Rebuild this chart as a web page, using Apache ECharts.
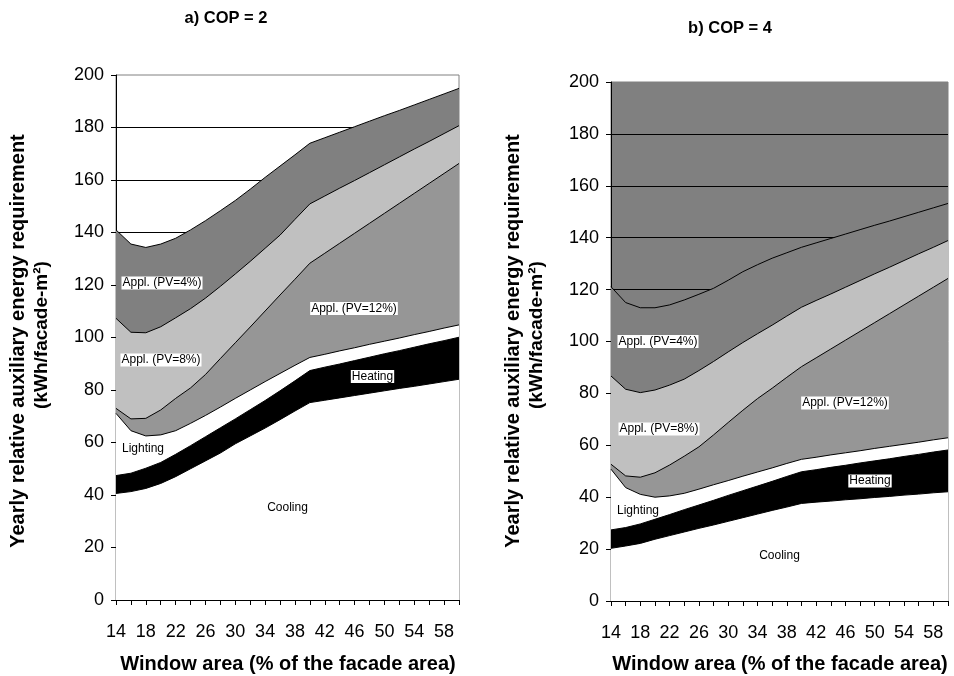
<!DOCTYPE html>
<html>
<head>
<meta charset="utf-8">
<script src="https://cdn.jsdelivr.net/npm/echarts@6/dist/echarts.min.js"></script>
<style>
html,body{margin:0;padding:0;background:#fff;}
#main{width:954px;height:676px;}
</style>
</head>
<body>
<div id="main"></div>
<script>
// Window area categories (% of facade area)
const categories = ['14','16','18','20','22','24','26','28','30','32','34','36','38','40','42','44','46','48','50','52','54','56','58','60'];

// a) COP = 2 — cumulative boundary values (kWh/facade-m2)
const coolingA  = [40.6,41.3,42.5,44.4,47.0,50.0,53.0,56.0,59.5,62.5,65.5,68.7,72.0,75.2,76.1,77.0,77.9,78.8,79.7,80.6,81.4,82.3,83.2,84.1];
const heatingA  = [47.4,48.3,50.2,52.4,55.5,58.8,62.2,65.6,69.0,72.5,76.0,79.7,83.5,87.4,88.7,89.9,91.2,92.5,93.8,95.0,96.3,97.6,98.8,100.1];
const lightingA = [71.1,64.5,62.5,62.9,64.5,67.3,70.3,73.5,76.8,80.0,83.2,86.3,89.4,92.4,93.6,94.9,96.1,97.4,98.6,99.8,101.1,102.3,103.6,104.8];
const pv12A     = [73.0,69.0,69.2,72.4,76.8,80.8,85.9,92.0,98.0,104.0,110.1,116.2,122.2,128.3,132.1,135.9,139.7,143.5,147.3,151.1,154.9,158.7,162.5,166.3];
const pv8A      = [107.3,102.0,101.8,104.1,107.5,111.0,115.0,119.5,124.2,129.0,134.0,139.0,145.0,150.9,153.9,156.9,159.8,162.8,165.8,168.8,171.8,174.7,177.7,180.7];
const pv4A      = [141.0,135.6,134.3,135.6,137.8,141.0,144.5,148.3,152.2,156.5,161.0,165.3,169.6,174.0,176.1,178.2,180.3,182.4,184.5,186.5,188.6,190.7,192.8,194.9];

// b) COP = 4
const coolingB  = [20.3,21.2,22.2,23.8,25.2,26.6,28.0,29.3,30.7,32.1,33.5,34.9,36.2,37.6,38.1,38.5,39.0,39.4,39.9,40.3,40.8,41.2,41.7,42.1];
const heatingB  = [27.4,28.3,29.7,31.5,33.3,35.2,37.0,38.8,40.7,42.5,44.3,46.1,48.0,49.8,50.6,51.5,52.3,53.2,54.0,54.8,55.7,56.5,57.4,58.2];
const lightingB = [50.8,43.7,41.1,40.0,40.5,41.5,43.1,44.8,46.4,48.1,49.7,51.3,53.0,54.6,55.4,56.3,57.1,57.9,58.8,59.6,60.4,61.2,62.1,62.9];
const pv12B     = [52.7,48.2,47.7,49.4,52.4,55.8,59.4,64.0,68.8,73.5,78.0,82.0,86.2,90.3,93.7,97.1,100.5,103.9,107.3,110.7,114.1,117.5,120.9,124.3];
const pv8B      = [86.7,81.6,80.3,81.3,83.2,85.5,88.8,92.3,96.0,99.6,103.0,106.3,109.8,113.2,115.8,118.3,120.9,123.5,126.1,128.6,131.2,133.8,136.3,138.9];
const pv4B      = [121.1,115.0,113.0,113.0,114.1,116.0,118.2,120.5,123.6,126.9,129.6,132.1,134.2,136.3,138.0,139.7,141.4,143.1,144.8,146.4,148.1,149.8,151.5,153.2];

const yTicks = {min: 0, max: 200, interval: 20};
const FONT = 'Liberation Sans, Arial, Helvetica, sans-serif';

const layers = [
  {name: 'Appl. (PV=4%)',  color: '#808080', a: pv4A,      b: pv4B},
  {name: 'Appl. (PV=8%)',  color: '#c0c0c0', a: pv8A,      b: pv8B},
  {name: 'Appl. (PV=12%)', color: '#969696', a: pv12A,     b: pv12B},
  {name: 'Lighting',       color: '#ffffff', a: lightingA, b: lightingB},
  {name: 'Heating',        color: '#000000', a: heatingA,  b: heatingB},
  {name: 'Cooling',        color: '#ffffff', a: coolingA,  b: coolingB}
];

function xAxisFor(i) {
  return {
    type: 'category', gridIndex: i, data: categories, boundaryGap: false,
    axisLine: {show: true, lineStyle: {color: '#000', width: 1}},
    axisTick: {show: true, interval: 0, length: 5, inside: false, lineStyle: {color: '#000'}},
    axisLabel: {interval: 1, fontSize: 18, color: '#000', margin: 23, fontFamily: FONT},
    splitLine: {show: false}
  };
}
function yAxisFor(i) {
  return {
    type: 'value', gridIndex: i, min: yTicks.min, max: yTicks.max, interval: yTicks.interval,
    axisLine: {show: true, lineStyle: {color: '#000', width: 1}},
    axisTick: {show: true, length: 5, lineStyle: {color: '#000'}},
    axisLabel: {fontSize: 18, color: '#000', margin: 12, fontFamily: FONT},
    splitLine: {show: true, showMinLine: false, showMaxLine: false, lineStyle: {color: '#000', width: 1}}
  };
}

const series = [];
[0, 1].forEach(function (g) {
  layers.forEach(function (L) {
    series.push({
      type: 'line', name: L.name, xAxisIndex: g, yAxisIndex: g,
      data: g === 0 ? L.a : L.b,
      symbol: 'none', silent: true, smooth: false,
      lineStyle: {color: '#000', width: 1},
      areaStyle: {color: L.color, opacity: 1}
    });
  });
});

function lbl(x, y, text, bg) {
  return {
    type: 'text', x: x, y: y, z: 100,
    style: {
      text: text, fill: '#000', font: '12px ' + FONT,
      align: 'center', verticalAlign: 'middle',
      backgroundColor: bg ? '#fff' : null, padding: bg ? [1, 1, 0, 1] : 0
    }
  };
}
function vtitle(x, y, text, size) {
  return {
    type: 'text', x: x, y: y, rotation: Math.PI / 2, z: 100,
    style: {text: text, fill: '#000', font: 'bold ' + size + 'px ' + FONT, align: 'center', verticalAlign: 'middle'}
  };
}
function htitle(x, y, text, size) {
  return {
    type: 'text', x: x, y: y, z: 100,
    style: {text: text, fill: '#000', font: 'bold ' + size + 'px ' + FONT, align: 'center', verticalAlign: 'middle'}
  };
}

const graphics = [
  htitle(226, 18, 'a) COP = 2', 16.5),
  htitle(730, 28, 'b) COP = 4', 16.5),
  vtitle(18, 341, 'Yearly relative auxiliary energy requirement', 20),
  vtitle(42, 335, '(kWh/facade-m²)', 19),
  vtitle(513, 341, 'Yearly relative auxiliary energy requirement', 20),
  vtitle(537, 335, '(kWh/facade-m²)', 19),
  htitle(288, 664, 'Window area (% of the facade area)', 20),
  htitle(780, 664, 'Window area (% of the facade area)', 20),
  lbl(162, 283, 'Appl. (PV=4%)', true),
  lbl(161, 360, 'Appl. (PV=8%)', true),
  lbl(354, 308.5, 'Appl. (PV=12%)', true),
  lbl(372.5, 376.5, 'Heating', true),
  lbl(143, 449, 'Lighting', false),
  lbl(287.5, 507.5, 'Cooling', false),
  lbl(658, 341.5, 'Appl. (PV=4%)', true),
  lbl(659, 429, 'Appl. (PV=8%)', true),
  lbl(845, 403, 'Appl. (PV=12%)', true),
  lbl(870, 481, 'Heating', true),
  lbl(638, 511, 'Lighting', false),
  lbl(779.5, 555.5, 'Cooling', false)
];

const chart = echarts.init(document.getElementById('main'), null, {renderer: 'canvas'});
chart.setOption({
  animation: false,
  backgroundColor: '#fff',
  textStyle: {fontFamily: FONT},
  grid: [
    {left: 116, top: 75, width: 343, height: 525, show: true, backgroundColor: '#fff', borderColor: '#808080', borderWidth: 1},
    {left: 611, top: 82, width: 337, height: 519, show: true, backgroundColor: '#808080', borderColor: '#808080', borderWidth: 1}
  ],
  xAxis: [xAxisFor(0), xAxisFor(1)],
  yAxis: [yAxisFor(0), yAxisFor(1)],
  series: series,
  graphic: graphics
});
</script>
</body>
</html>
